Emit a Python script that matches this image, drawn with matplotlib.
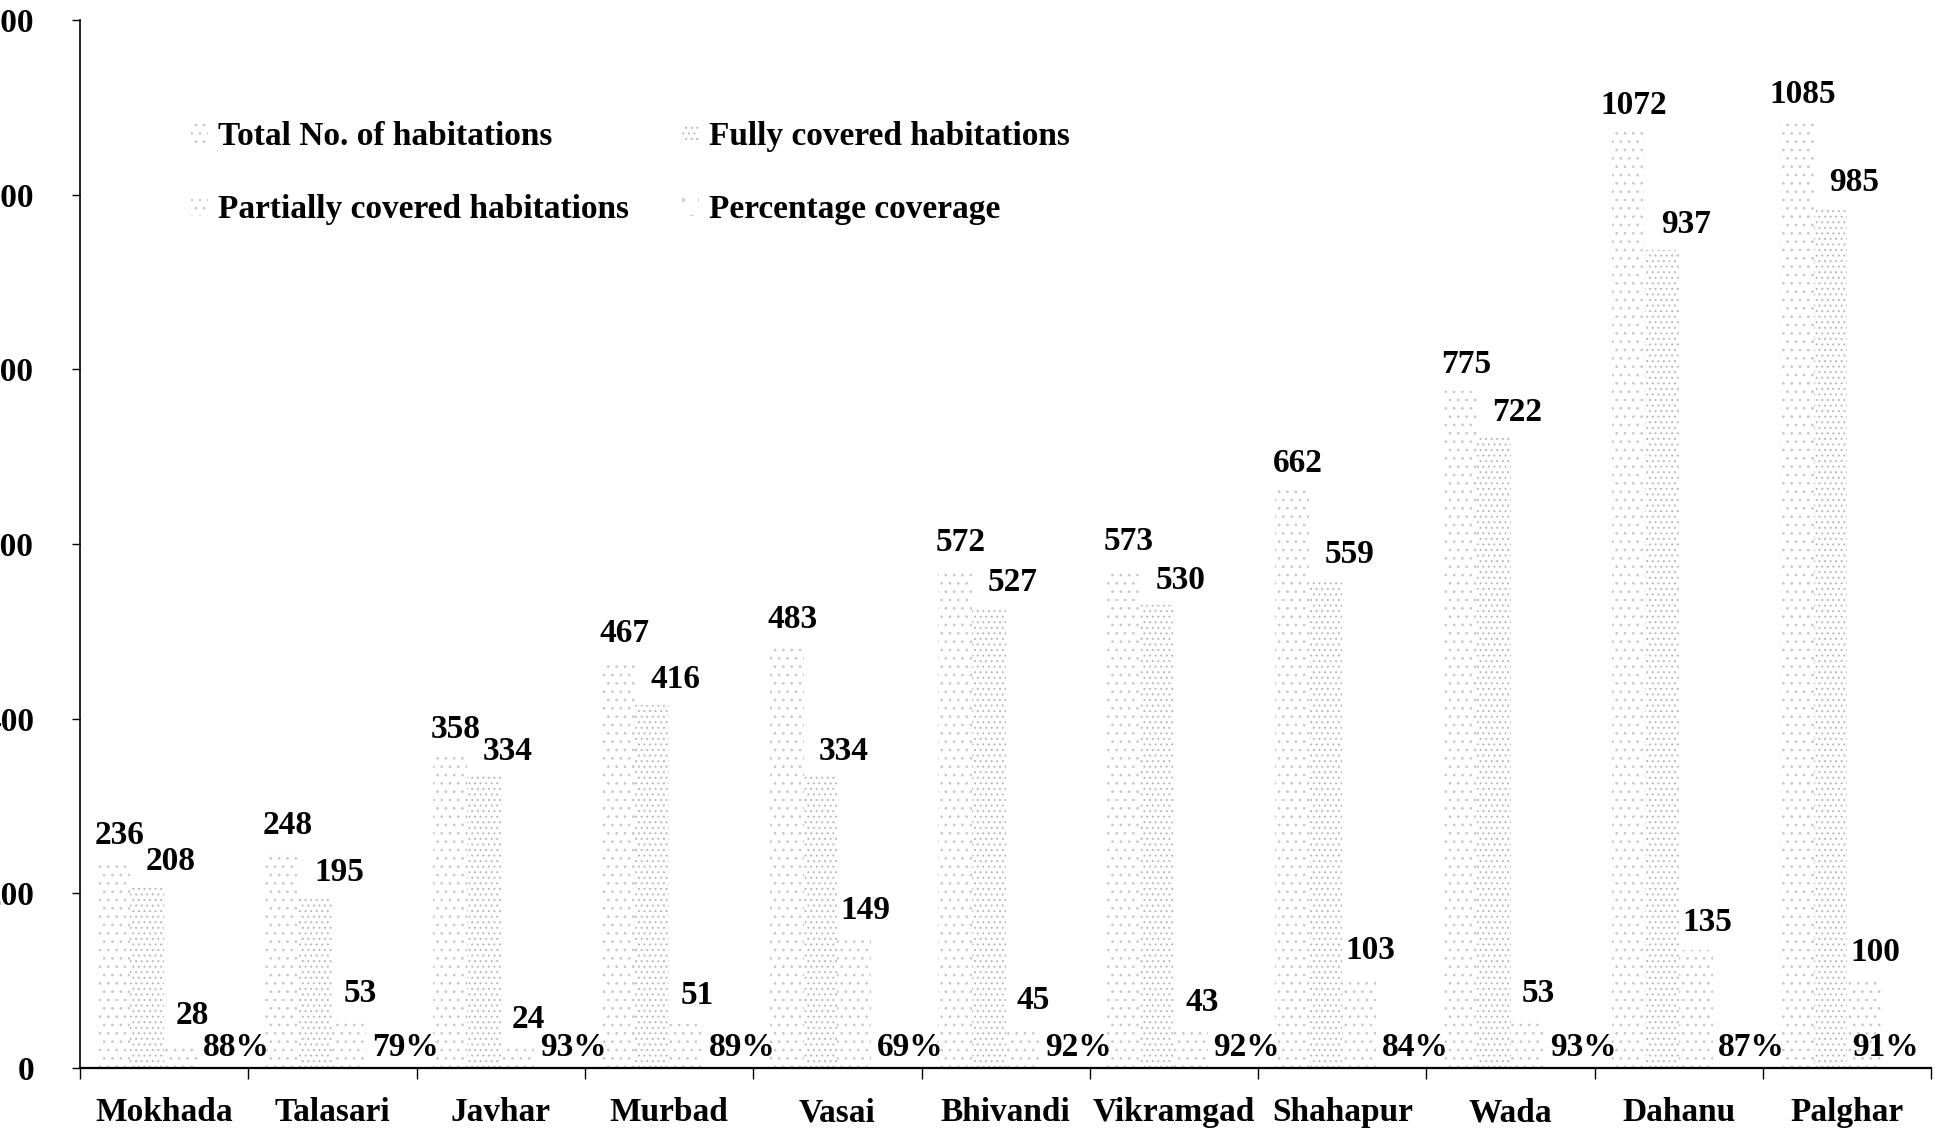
import matplotlib
matplotlib.use("Agg")
import matplotlib.pyplot as plt
import numpy as np
from matplotlib.patches import Patch

# Habitation coverage by taluka
CATEGORIES = ["Mokhada", "Talasari", "Javhar", "Murbad", "Vasai", "Bhivandi",
              "Vikramgad", "Shahapur", "Wada", "Dahanu", "Palghar"]
TOTAL = [236, 248, 358, 467, 483, 572, 573, 662, 775, 1072, 1085]
FULLY = [208, 195, 334, 416, 334, 527, 530, 559, 722, 937, 985]
PARTIAL = [28, 53, 24, 51, 149, 45, 43, 103, 53, 135, 100]
PCT = [88, 79, 93, 89, 69, 92, 92, 84, 93, 87, 91]
SERIES_NAMES = ["Total No. of habitations", "Fully covered habitations",
                "Partially covered habitations", "Percentage coverage"]
Y_TICKS = [0, 200, 400, 600, 800, 1000, 1200]


def main() -> None:
    plt.rcParams.update({"font.family": "Liberation Serif", "font.weight": "bold",
                         "hatch.linewidth": 0.7})
    fig = plt.figure(figsize=(19.49, 11.39), dpi=100)
    ax = fig.add_axes([0.041, 0.0623, 0.95, 0.920])

    n = len(CATEGORIES)
    x = np.arange(n)
    width = 0.2
    heights = [TOTAL, FULLY, PARTIAL, [p / 100 for p in PCT]]
    labels = [[str(v) for v in TOTAL], [str(v) for v in FULLY],
              [str(v) for v in PARTIAL], [f"{p}%" for p in PCT]]
    offsets = [-0.3, -0.1, 0.1, 0.3]
    hatches = ["..", "...", "..", "."]
    edge = ["#c8c8c8", "#b8b8b8", "#c8c8c8", "#d4d4d4"]
    # label nudges (points) so the text sits up and to the right of each bar
    label_dx = [4, 17, 8, 16]
    label_dy = [19, 18, 20, 14]

    handles = []
    for k in range(4):
        ax.bar(x + offsets[k], heights[k], width, color="white", edgecolor=edge[k],
               linewidth=0, hatch=hatches[k], zorder=1)
        for i, (xi, h, txt) in enumerate(zip(x + offsets[k], heights[k], labels[k])):
            dx = label_dx[k]
            if k == 3 and i == n - 1:
                dx = -9  # last % label pulled in so it stays on the page
            ax.annotate(txt, (xi, h), xytext=(dx, label_dy[k]),
                        textcoords="offset points", ha="center", va="center",
                        fontsize=24, fontweight="bold", zorder=3)
        handles.append(Patch(facecolor="white", edgecolor=edge[k], linewidth=0,
                             hatch=hatches[k], label=SERIES_NAMES[k]))

    ax.set_xlim(-0.5, n - 0.5)
    ax.set_ylim(0, 1200)
    ax.set_yticks(Y_TICKS)
    ax.set_yticklabels([str(t) for t in Y_TICKS], fontsize=24, fontweight="bold")
    ax.tick_params(axis="y", length=6, pad=27, width=1)

    ax.set_xticks(np.arange(-0.5, n, 1))
    ax.set_xticklabels([""] * (n + 1))
    ax.set_xticks(x, minor=True)
    ax.set_xticklabels(CATEGORIES, minor=True, fontsize=24, fontweight="bold")
    ax.tick_params(axis="x", which="major", length=8, width=1)
    ax.tick_params(axis="x", which="minor", length=0, pad=21)

    for side in ("top", "right"):
        ax.spines[side].set_visible(False)
    ax.spines["left"].set_linewidth(1.2)
    ax.spines["bottom"].set_linewidth(1.6)

    # legend reads row by row: Total / Fully, then Partially / Percentage
    order = [0, 2, 1, 3]
    ax.legend(handles=[handles[i] for i in order], ncol=2, loc="upper left",
              bbox_to_anchor=(0.044, 0.932), frameon=False, fontsize=24,
              handlelength=0.5, handleheight=0.5, handletextpad=0.3,
              columnspacing=1.6, labelspacing=1.26)

    fig.savefig("out.png", dpi=100)


if __name__ == "__main__":
    main()
